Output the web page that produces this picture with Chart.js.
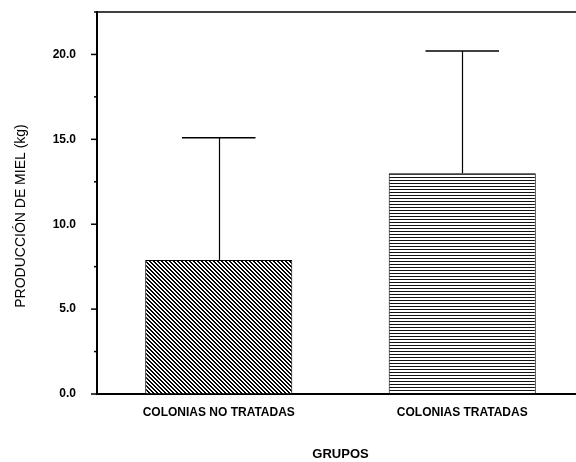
<!DOCTYPE html>
<html>
<head>
<meta charset="utf-8">
<script src="https://cdn.jsdelivr.net/npm/chart.js@4/dist/chart.umd.min.js"></script>
<style>
  html, body { margin: 0; padding: 0; background: #fff; overflow: hidden; }
  canvas { display: block; }
</style>
</head>
<body>
<canvas id="c" width="590" height="462" style="width:590px;height:462px"></canvas>
<script>
const categories = ['COLONIAS NO TRATADAS', 'COLONIAS TRATADAS'];
const meanValues = [7.9, 13.0];
const errorValues = [7.2, 7.2];
const yTickValues = [0, 5, 10, 15, 20];
const yTitle = 'PRODUCCIÓN DE MIEL (kg)';
const xTitle = 'GRUPOS';

const FONT = "'Liberation Sans', Arial, sans-serif";

function makeDiagonal() {
  const c = document.createElement('canvas');
  c.width = 4; c.height = 4;
  const g = c.getContext('2d');
  g.fillStyle = '#fff'; g.fillRect(0, 0, 4, 4);
  g.fillStyle = '#000';
  for (let i = 0; i < 4; i++) {
    g.fillRect(i, i, 1, 1);
    g.fillRect((i + 1) % 4, i, 1, 1);
  }
  return g.createPattern(c, 'repeat');
}
function makeHorizontal() {
  const c = document.createElement('canvas');
  c.width = 4; c.height = 3;
  const g = c.getContext('2d');
  g.fillStyle = '#fff'; g.fillRect(0, 0, 4, 3);
  g.fillStyle = '#111';
  g.fillRect(0, 0, 4, 1);
  return g.createPattern(c, 'repeat');
}

const errorBarPlugin = {
  id: 'errorBars',
  afterDatasetsDraw(chart) {
    const ctx = chart.ctx;
    const y = chart.scales.y;
    const meta = chart.getDatasetMeta(0);
    ctx.save();
    ctx.strokeStyle = '#000';
    meta.data.forEach((bar, i) => {
      const x = bar.x;
      const yBar = y.getPixelForValue(meanValues[i]);
      const yTop = y.getPixelForValue(meanValues[i] + errorValues[i]);
      const half = bar.width * 0.25;
      ctx.lineWidth = 1.2;
      ctx.beginPath();
      ctx.moveTo(Math.round(x) + 0.5, yBar);
      ctx.lineTo(Math.round(x) + 0.5, yTop);
      ctx.stroke();
      ctx.lineWidth = 1.5;
      ctx.beginPath();
      ctx.moveTo(x - half, yTop);
      ctx.lineTo(x + half, yTop);
      ctx.stroke();
    });
    ctx.restore();
  }
};

const framePlugin = {
  id: 'frame',
  afterDraw(chart) {
    const ctx = chart.ctx;
    const a = chart.chartArea;
    const y = chart.scales.y;
    ctx.save();
    ctx.strokeStyle = '#000';
    ctx.lineWidth = 1.5;
    ctx.beginPath();
    ctx.moveTo(a.left, a.top);
    ctx.lineTo(a.right, a.top);
    ctx.stroke();
    y.ticks.forEach(t => {
      const py = y.getPixelForValue(t.value);
      const len = (Math.abs(t.value % 5) < 1e-6) ? 6 : 3;
      ctx.beginPath();
      ctx.moveTo(a.left - len, py);
      ctx.lineTo(a.left, py);
      ctx.stroke();
    });
    ctx.restore();
  }
};

const chart = new Chart(document.getElementById('c'), {
  type: 'bar',
  data: {
    labels: categories,
    datasets: [{
      data: meanValues,
      backgroundColor: [makeDiagonal(), makeHorizontal()],
      borderColor: '#000',
      borderWidth: 1,
      categoryPercentage: 1.0,
      barPercentage: 0.604
    }]
  },
  options: {
    responsive: false,
    devicePixelRatio: 1,
    animation: false,
    layout: { padding: { left: 0, right: 6, top: 12, bottom: 0 } },
    plugins: { legend: { display: false }, tooltip: { enabled: false } },
    scales: {
      x: {
        afterFit(s) { s.height = 68; s.paddingLeft = 0; s.paddingRight = 0; },
        grid: { display: true, color: 'transparent', drawTicks: false, tickLength: 0 },
        border: { display: true, color: '#000', width: 2 },
        ticks: { color: '#000', padding: 11, font: { family: FONT, size: 12, weight: 'bold' }, maxRotation: 0 },
        title: { display: true, text: xTitle, color: '#000', padding: { top: 0, bottom: 0 }, font: { family: FONT, size: 13, weight: 'bold' } }
      },
      y: {
        min: 0,
        max: 22.5,
        afterFit(s) {
          s.width = 97;
          s.paddingTop = 0;
          s.paddingBottom = 0;
          if (!s._shifted) {
            const orig = s.drawTitle.bind(s);
            s.drawTitle = function () {
              const ctx = this.ctx;
              ctx.save();
              ctx.translate(0, 13);
              orig();
              ctx.restore();
            };
            s._shifted = true;
          }
        },
        grid: { display: true, color: 'transparent', drawTicks: false, tickLength: 0 },
        border: { display: true, color: '#000', width: 2 },
        ticks: {
          stepSize: 2.5,
          padding: 21,
          color: '#000',
          font: { family: FONT, size: 12, weight: 'bold' },
          callback: (v) => yTickValues.includes(v) ? v.toFixed(1) : ''
        },
        title: { display: true, text: yTitle, color: '#000', padding: { top: 13, bottom: 0 }, font: { family: FONT, size: 14, weight: 'normal' } }
      }
    }
  },
  plugins: [errorBarPlugin, framePlugin]
});
</script>
</body>
</html>
